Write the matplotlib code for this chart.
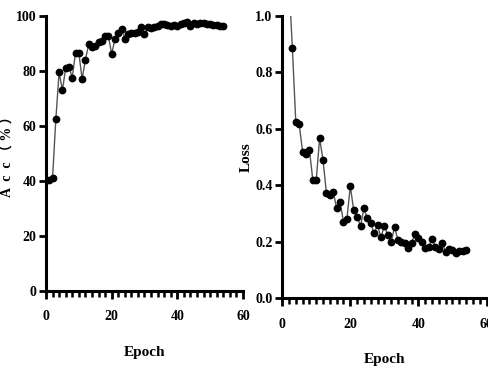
import numpy as np
import matplotlib
matplotlib.use("Agg")
import matplotlib.pyplot as plt
from matplotlib.ticker import MultipleLocator

# accuracy per epoch (%)
acc_epochs = list(range(1, 55))
acc_values = [40.5, 41.0, 62.4, 79.5, 73.0, 81.0, 81.6, 77.6, 86.7, 86.7,
              77.1, 84.0, 89.7, 88.9, 89.2, 90.5, 91.0, 92.8, 92.8, 86.2,
              91.5, 94.0, 95.2, 91.8, 93.3, 94.0, 93.7, 94.3, 96.0, 93.3,
              96.0, 95.5, 96.0, 96.5, 97.0, 97.0, 96.8, 96.5, 96.8, 96.5,
              97.0, 97.5, 98.0, 96.5, 97.5, 97.0, 97.5, 97.3, 97.0, 97.0,
              96.8, 96.8, 96.5, 96.5]

# loss per epoch (first two are above the axis range)
loss_epochs = list(range(1, 55))
loss_values = [1.40, 1.12, 0.885, 0.625, 0.616, 0.519, 0.511, 0.525, 0.419, 0.419,
               0.566, 0.489, 0.372, 0.365, 0.377, 0.318, 0.342, 0.271, 0.280, 0.397,
               0.312, 0.289, 0.256, 0.318, 0.283, 0.265, 0.230, 0.259, 0.216, 0.257,
               0.224, 0.200, 0.253, 0.206, 0.200, 0.195, 0.177, 0.197, 0.228, 0.212,
               0.200, 0.177, 0.183, 0.209, 0.183, 0.173, 0.195, 0.165, 0.174, 0.170,
               0.159, 0.168, 0.168, 0.170]

x_ticks = [0, 20, 40, 60]
acc_ticks = [0, 20, 40, 60, 80, 100]
loss_ticks = [0.0, 0.2, 0.4, 0.6, 0.8, 1.0]

plt.rcParams['font.family'] = ['Liberation Serif', 'Noto Sans CJK SC', 'DejaVu Sans']
plt.rcParams['font.weight'] = 'bold'

fig = plt.figure(figsize=(4.89, 3.73), dpi=100)
ax1 = fig.add_axes([0.094, 0.220, 0.403, 0.737])
ax2 = fig.add_axes([0.577, 0.200, 0.418, 0.758])


def style_axes(ax):
    for s in ['top', 'right']:
        ax.spines[s].set_visible(False)
    for s in ['left', 'bottom']:
        ax.spines[s].set_linewidth(2.2)
    ax.xaxis.set_minor_locator(MultipleLocator(2))
    ax.tick_params(axis='both', which='major', direction='out', length=6, width=2,
                   labelsize=10, pad=8)
    ax.tick_params(axis='x', which='minor', direction='out', length=4, width=1.8)
    ax.tick_params(axis='y', which='major', length=5, pad=2)
    ax.set_xlim(0, 60)
    ax.set_xticks(x_ticks)
    for lab in ax.get_xticklabels() + ax.get_yticklabels():
        lab.set_fontweight('bold')
    ax.set_xlabel("Epoch", fontsize=11, fontweight='bold', labelpad=16)


ax1.plot(acc_epochs, acc_values, color='#555555', lw=1.0, marker='o', ms=4.6,
         mfc='black', mec='black')
ax1.set_ylim(0, 100)
ax1.set_yticks(acc_ticks)
style_axes(ax1)
ax1.set_ylabel("A  c  c （ % ）", fontsize=10, fontweight='bold')
ax1.yaxis.set_label_coords(-0.16, 0.5)

ax2.plot(loss_epochs, loss_values, color='#555555', lw=1.0, marker='o', ms=4.6,
         mfc='black', mec='black')
ax2.set_ylim(0, 1.0)
ax2.set_yticks(loss_ticks)
ax2.set_yticklabels([f"{v:.1f}" for v in loss_ticks])
style_axes(ax2)
ax2.set_ylabel("Loss", fontsize=11, fontweight='bold')
ax2.yaxis.set_label_coords(-0.145, 0.5)

fig.savefig("out.png", dpi=100)
